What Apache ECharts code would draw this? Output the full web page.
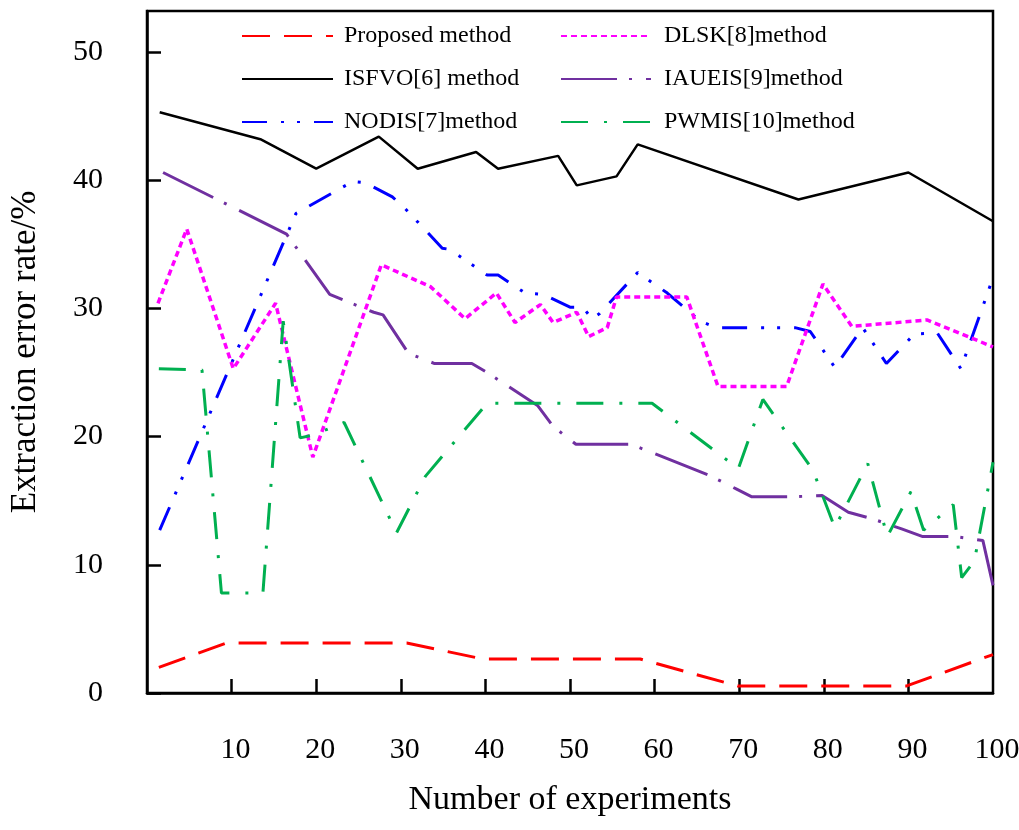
<!DOCTYPE html>
<html>
<head>
<meta charset="utf-8">
<script src="https://cdn.jsdelivr.net/npm/echarts@6/dist/echarts.min.js"></script>
<style>
html,body{margin:0;padding:0;background:#fff;}
#chart{width:1019px;height:830px;}
</style>
</head>
<body>
<div id="chart"></div>
<script>
// ---- data ----
const seriesNames = ['Proposed method','ISFVO[6] method','NODIS[7]method','DLSK[8]method','IAUEIS[9]method','PWMIS[10]method'];

const proposedX = [1.4, 9.4, 30.7, 39.7, 58.3, 69.8, 89.8, 100];
const proposedY = [2.0, 3.9, 3.9, 2.65, 2.65, 0.55, 0.55, 3.0];

const isfvoX = [1.5, 13.4, 20, 27.4, 32, 38.9, 41.5, 48.6, 50.8, 55.5, 58, 77, 90, 100];
const isfvoY = [45.3, 43.2, 40.9, 43.4, 40.9, 42.2, 40.9, 41.9, 39.6, 40.3, 42.8, 38.5, 40.6, 36.8];

const nodisX = [1.5, 17.6, 24.3, 25.8, 29.0, 30.5, 34.9, 35.8, 40.2, 41.5, 44.7, 46.8, 50.0, 51.5, 52.6, 53.5, 58.0, 61.5, 65.4, 67.3, 76.6, 78.4, 81.3, 84.6, 87.4, 90.7, 93.4, 96.2, 100];
const nodisY = [12.7, 37.4, 39.9, 39.8, 38.7, 37.8, 34.7, 34.6, 32.6, 32.6, 31.2, 31.1, 30.1, 30.1, 29.2, 29.6, 32.8, 31.2, 29.0, 28.5, 28.5, 28.2, 25.4, 28.5, 25.7, 28.0, 28.1, 25.3, 32.4];

const dlskX = [1.3, 4.7, 10.2, 15.2, 19.6, 27.7, 33.5, 37.6, 41.3, 43.5, 46.5, 48.0, 50.8, 52.2, 54.4, 55.5, 63.8, 67.5, 75.6, 79.9, 83.3, 92.2, 100];
const dlskY = [30.4, 36.2, 25.3, 30.4, 18.4, 33.4, 31.7, 29.2, 31.2, 28.9, 30.3, 28.9, 29.7, 27.8, 28.5, 30.9, 30.9, 23.9, 23.9, 31.9, 28.6, 29.1, 27.0];

const iaueisX = [1.9, 16.5, 19.0, 21.6, 23.4, 26.8, 27.9, 30.9, 34.0, 38.4, 40.2, 46.2, 48.0, 50.7, 57.2, 66.4, 69.7, 71.5, 76.0, 79.8, 82.9, 85.7, 89.2, 91.7, 95.5, 98.8, 100];
const iaueisY = [40.6, 35.8, 33.5, 31.1, 30.6, 29.7, 29.5, 26.5, 25.7, 25.7, 25.0, 22.4, 20.8, 19.4, 19.4, 17.0, 15.9, 15.3, 15.3, 15.4, 14.1, 13.6, 12.8, 12.2, 12.2, 11.9, 8.4];

const pwmisX = [1.4, 6.5, 8.8, 13.7, 16.1, 18.1, 19.5, 23.3, 29.5, 32.9, 40.2, 59.7, 69.9, 72.8, 78.7, 81.3, 85.2, 87.5, 90.3, 91.8, 95.3, 96.3, 97.8, 100];
const pwmisY = [25.3, 25.2, 7.8, 7.8, 29.0, 19.9, 20.1, 21.1, 12.5, 16.9, 22.6, 22.6, 17.5, 22.9, 17.4, 12.9, 17.9, 12.2, 15.7, 12.7, 14.7, 9.0, 10.3, 18.0];

const yTicks = [0, 10, 20, 30, 40, 50];
const xTickMarks = [10, 20, 30, 40, 50, 60, 70, 80, 90];
const xTickLabels = [10, 20, 30, 40, 50, 60, 70, 80, 90, 100];

// ---- build ----
function pairs(xs, ys) { return xs.map((x, i) => [x, ys[i]]); }
const FONT = "'Liberation Serif', 'Times New Roman', serif";

function lineSeries(name, xs, ys, color, width, dash) {
  return {
    name: name,
    type: 'line',
    data: pairs(xs, ys),
    symbol: 'none',
    smooth: false,
    lineStyle: { color: color, width: width, type: dash, cap: 'butt' },
    itemStyle: { color: color },
    emphasis: { disabled: true },
    z: 3
  };
}

const legendCommon = {
  orient: 'vertical', top: 19,
  itemHeight: 14, itemGap: 19,
  itemStyle: { opacity: 0 },
  selectedMode: false
};

const chart = echarts.init(document.getElementById('chart'), null, { renderer: 'canvas' });
chart.setOption({
  animation: false,
  backgroundColor: '#ffffff',
  grid: {
    left: 147, right: 26, top: 11, bottom: 137,
    outerBoundsMode: 'none', containLabel: false,
    show: true, borderColor: '#000', borderWidth: 2.5, backgroundColor: 'transparent'
  },
  legend: [
    Object.assign({}, legendCommon, {
      data: seriesNames.slice(0, 3),
      left: 236, itemWidth: 91,
      textStyle: { fontFamily: FONT, fontSize: 24, color: '#000', padding: [0, 0, 0, 6] }
    }),
    Object.assign({}, legendCommon, {
      data: seriesNames.slice(3, 6),
      left: 555, itemWidth: 90,
      textStyle: { fontFamily: FONT, fontSize: 24, color: '#000', padding: [0, 0, 0, 8] }
    })
  ],
  xAxis: {
    type: 'value', min: 0, max: 100, interval: 10,
    name: 'Number of experiments', nameLocation: 'middle', nameGap: 90,
    nameTextStyle: { fontFamily: FONT, fontSize: 34, color: '#000' },
    axisLine: { lineStyle: { color: '#000', width: 2.5 } },
    axisTick: { inside: true, length: 14, lineStyle: { color: '#000', width: 2.5 }, customValues: xTickMarks },
    axisLabel: { fontFamily: FONT, fontSize: 30, color: '#000', margin: 42, padding: [0, 0, 0, 8], customValues: xTickLabels },
    splitLine: { show: false }
  },
  yAxis: {
    type: 'value', min: 0, max: 53.2, interval: 10,
    name: 'Extraction error rate/%', nameLocation: 'middle', nameGap: 104, nameRotate: 90,
    nameTextStyle: { fontFamily: FONT, fontSize: 35, color: '#000' },
    axisLine: { lineStyle: { color: '#000', width: 2.5 } },
    axisTick: { inside: true, length: 14, lineStyle: { color: '#000', width: 2.5 }, customValues: yTicks },
    axisLabel: { fontFamily: FONT, fontSize: 30, color: '#000', margin: 44, customValues: yTicks },
    splitLine: { show: false }
  },
  series: [
    lineSeries(seriesNames[0], proposedX, proposedY, '#ff0000', 3, [28, 14]),
    lineSeries(seriesNames[1], isfvoX, isfvoY, '#000000', 2.5, 'solid'),
    lineSeries(seriesNames[2], nodisX, nodisY, '#0000ff', 3, [25, 14, 3, 13, 3, 14]),
    lineSeries(seriesNames[3], dlskX, dlskY, '#ff00ff', 3.5, [6, 4]),
    lineSeries(seriesNames[4], iaueisX, iaueisY, '#7030a0', 3, [56, 12, 3, 14]),
    lineSeries(seriesNames[5], pwmisX, pwmisY, '#00b050', 3, [27, 16, 3, 16])
  ]
});
</script>
</body>
</html>
